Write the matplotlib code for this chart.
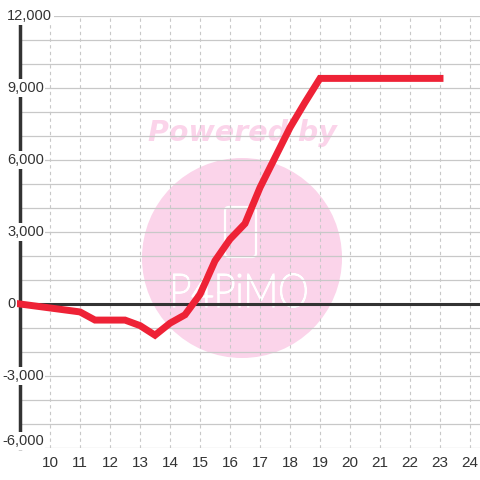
import matplotlib
matplotlib.use("Agg")
import matplotlib.pyplot as plt
from matplotlib.patches import Circle, FancyBboxPatch, PathPatch
from matplotlib.textpath import TextPath
from matplotlib.font_manager import FontProperties
from matplotlib.transforms import Affine2D, ScaledTranslation

# ---- data ----
hours = [9, 11, 11.5, 12.5, 13, 13.5, 14, 14.5, 15, 15.5, 16, 16.5, 17, 17.5, 18, 18.5, 19, 23]
values = [0, -330, -670, -670, -900, -1300, -800, -450, 400, 1800, 2700, 3350, 4850, 6100, 7350, 8400, 9400, 9400]
x_ticks = [10, 11, 12, 13, 14, 15, 16, 17, 18, 19, 20, 21, 22, 23, 24]
x_labels = [str(t) for t in x_ticks]
y_ticks = [-6000, -3000, 0, 3000, 6000, 9000, 12000]
y_labels = ["-6,000", "-3,000", "0", "3,000", "6,000", "9,000", "12,000"]
y_grid = list(range(-6000, 12001, 1000))

W = H = 480
fig = plt.figure(figsize=(4.8, 4.8), dpi=100, facecolor="white")
ax = fig.add_axes([20 / W, 32 / H, 460 / W, 432 / H])
ax.set_facecolor("white")
ax.set_xlim(9, 24.3333)
ax.set_ylim(-6000, 12000)

# watermark (behind grid)
pink = "#FBD4EA"
ax.add_patch(Circle((242 / W, 1 - 258 / H), 100 / W, transform=fig.transFigure,
                    facecolor=pink, edgecolor="none", zorder=0.2, clip_on=False))
ax.text(242 / W, 1 - 133 / H, "Powered by", transform=fig.transFigure, ha="center", va="center",
        fontsize=20.5, fontweight="bold", fontstyle="italic", family="DejaVu Sans",
        color=pink, zorder=0.3)
ax.add_patch(FancyBboxPatch((225 / W, 1 - 257 / H), 31 / W, 50 / H,
                            boxstyle="round,pad=0,rounding_size=0.008",
                            transform=fig.transFigure, facecolor="none",
                            edgecolor="white", lw=1.6, zorder=0.3, clip_on=False))
tp = TextPath((0, 0), "P4PiMO", size=40, prop=FontProperties(family="Lato", weight="light"))
bb = tp.get_extents()
x0p, x1p, y0p, y1p = 174, 306, 274, 307
tr = (Affine2D().translate(-bb.x0, -bb.y0)
      .scale((x1p - x0p) / W / bb.width, (y1p - y0p) / H / bb.height)
      .translate(x0p / W, 1 - y1p / H) + fig.transFigure)
ax.add_patch(PathPatch(tp, transform=tr, facecolor="white", edgecolor="white", lw=1.3,
                       zorder=0.3, clip_on=False))

# grid
ax.set_yticks(y_grid)
ax.set_yticklabels([])
ax.tick_params(axis="y", length=0)
ax.set_xticks(x_ticks)
ax.set_xticklabels(x_labels, family="Liberation Sans", fontsize=11, color="#333333")
ax.tick_params(axis="x", length=0, pad=6)
ax.grid(axis="y", color="#C8C8C8", lw=0.9, ls="-", zorder=1)
ax.grid(axis="x", color="#C8C8C8", lw=0.8, ls=(0, (3, 3)), zorder=1)
ax.set_axisbelow(True)

for s in ["top", "right", "bottom"]:
    ax.spines[s].set_visible(False)
ax.spines["left"].set_color("#333333")
ax.spines["left"].set_linewidth(2.5)
ax.spines["left"].set_zorder(2.5)

ax.axhline(0, color="#333333", lw=2.2, zorder=2.6, clip_on=False)

ax.plot(hours, values, color="#EE2236", lw=5.0, solid_capstyle="projecting",
        solid_joinstyle="miter", zorder=3, clip_on=False)

# y labels with white background covering axis line
ytr = ax.get_yaxis_transform()
for v, lab in zip(y_ticks, y_labels):
    xoff = -5 if lab.startswith("-") else 0
    t = ytr + ScaledTranslation(xoff / 100, 0, fig.dpi_scale_trans)
    va = "bottom" if v == min(y_ticks) else "center"
    ax.text(-13 / 460, v, lab, transform=t, ha="left", va=va, family="Liberation Sans",
            fontsize=10.5, color="#333333", zorder=5, clip_on=False,
            bbox=dict(facecolor="white", edgecolor="none", pad=1.2))

fig.savefig("out.png", dpi=100, facecolor="white")
